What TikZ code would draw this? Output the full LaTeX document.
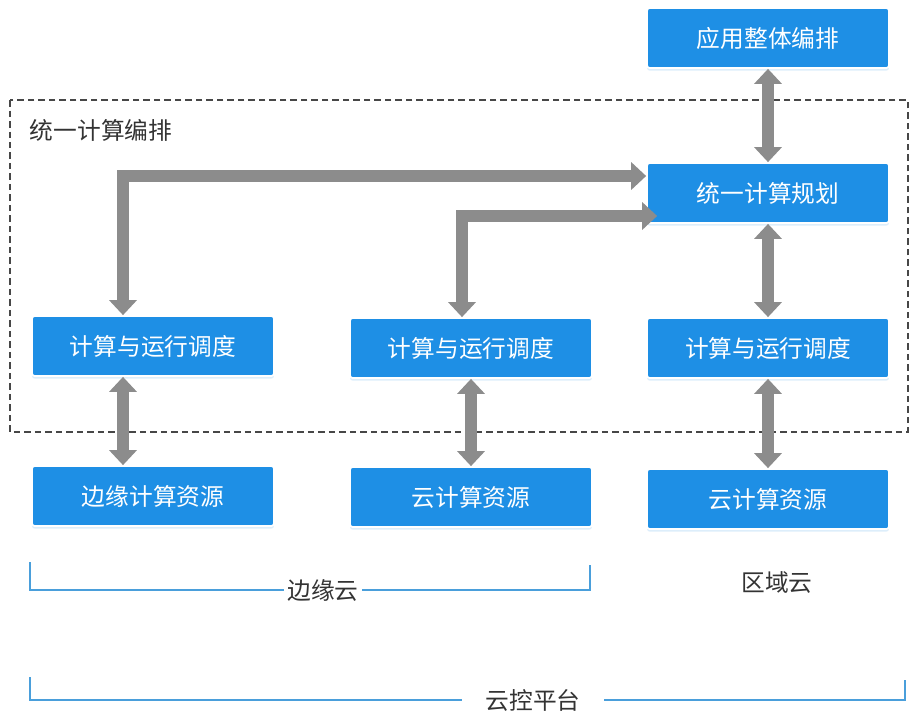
\documentclass[tikz,border=0pt]{standalone}
\usepackage{fontspec}
\setmainfont{Noto Sans CJK SC}
\usetikzlibrary{arrows.meta,shadows}
\definecolor{boxblue}{HTML}{1E8FE5}
\definecolor{arrowgray}{HTML}{8C8C8C}
\definecolor{braceblue}{HTML}{4A9FDB}
\definecolor{textgray}{HTML}{333333}

\begin{document}
\begin{tikzpicture}[x=0.02cm, y=-0.02cm,
				    block/.style={draw=white, line width=1pt, rounded corners=1.5pt,
				    			  fill=boxblue, text=white, text centered,
				    			  minimum width=4.84cm, minimum height=1.2cm,
				    			  font=\fontsize{13.5}{16}\selectfont,
				    			  drop shadow={shadow xshift=0pt, shadow yshift=-1.5pt,
				    			  			   fill=boxblue!30}},
				    label/.style={text=textgray, inner sep=2pt,
				    			  font=\fontsize{13.5}{16}\selectfont},
				    link/.style={draw=arrowgray, line width=0.24cm,
				    			 {Triangle[width=0.54cm,length=0.3cm]}-{Triangle[width=0.54cm,length=0.3cm]}},
				    frame/.style={draw=textgray!90, line width=1.2pt,
				    			  dash pattern=on 0.13cm off 0.08cm},
				    bracket/.style={draw=braceblue, line width=1pt}]
	\useasboundingbox (0, 0) rectangle (911, 714);

	\draw[frame] (10, 100) rectangle (908, 432);
	\node[label, anchor=west] (title) at (26, 130) {统一计算编排};

	\node[block] (app)  at (768, 38)  {应用整体编排};
	\node[block] (plan) at (768, 193) {统一计算规划};
	\node[block] (sch1) at (153, 346) {计算与运行调度};
	\node[block] (sch2) at (471, 348) {计算与运行调度};
	\node[block] (sch3) at (768, 348) {计算与运行调度};
	\node[block] (res1) at (153, 496) {边缘计算资源};
	\node[block] (res2) at (471, 497) {云计算资源};
	\node[block] (res3) at (768, 499) {云计算资源};

	\node[label] (edge)   at (323, 590) {边缘云};
	\node[label] (region) at (777, 583) {区域云};
	\node[label] (ctrl)   at (533, 700) {云控平台};

	\path[link] (app)  -- (plan);
	\path[link] (plan) -- (sch3);
	\path[link] (sch3) -- (res3);
	\path[link] (sch2) -- (res2);
	\path[link] ([xshift=-0.6cm]sch1.south) -- ([xshift=-0.6cm]res1.north);
	\path[link] ([xshift=-0.6cm]sch1.north) |- ([yshift=0.34cm]plan.west);
	\path[link] ([xshift=-0.18cm]sch2.north) |- ([xshift=0.22cm, yshift=-0.46cm]plan.west);

	\draw[bracket] (30, 562) |- (edge.west);
	\draw[bracket] (edge.east) -| (590, 565);
	\draw[bracket] (30, 677) |- ([xshift=-0.4cm]ctrl.west);
	\draw[bracket] ([xshift=0.4cm]ctrl.east) -| (905, 680);

\end{tikzpicture}
\end{document}
